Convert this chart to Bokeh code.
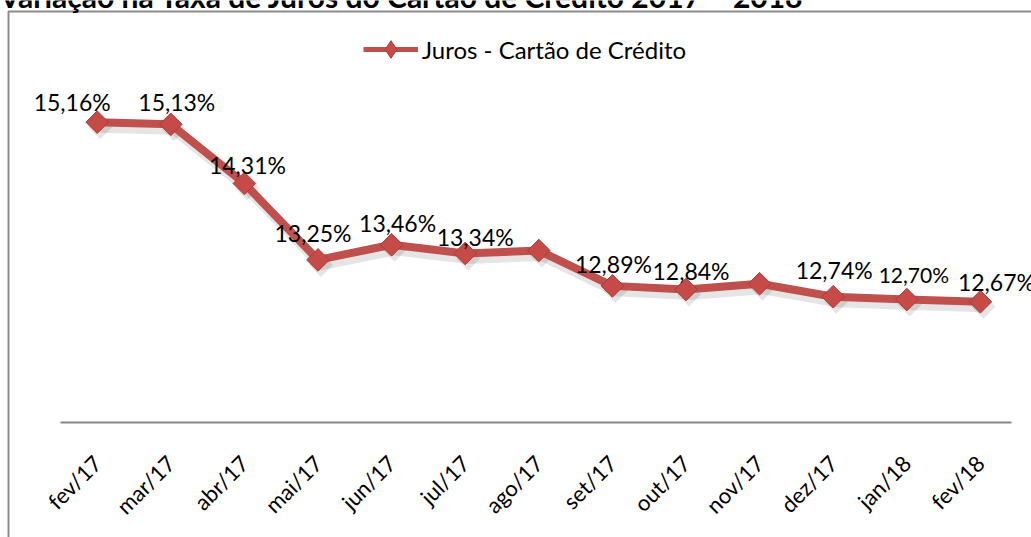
import numpy as np
from bokeh.plotting import figure
from bokeh.models import Range1d, FixedTicker, Legend, LegendItem, Label, ColumnDataSource
from bokeh.core.properties import value
from bokeh.embed import file_html
from bokeh.resources import INLINE

# ---- data ----
categories = ["fev/17", "mar/17", "abr/17", "mai/17", "jun/17", "jul/17", "ago/17",
              "set/17", "out/17", "nov/17", "dez/17", "jan/18", "fev/18"]
juros = [15.16, 15.13, 14.31, 13.25, 13.46, 13.34, 13.38, 12.89, 12.84, 12.92, 12.74, 12.70, 12.67]
label_shown = [True, True, True, True, True, True, False, True, True, False, True, True, True]
series_name = "Juros - Cartão de Crédito"
title_text = "Variação na Taxa de Juros do Cartão de Crédito 2017 – 2018"
axis_min = 11

# ---- label placement (style, pixels) ----
label_dx = [-25, 6, 3, -5, 6, 10, 0, 1, 5, 0, 1, 7, 16]
label_dy = [-20, -22, -18, -27, -22, -16, 0, -22, -18, 0, -27, -25, -20]
label_fs = ["23px"] * 11 + ["21px", "23px"]

# ---- geometry ----
W, H = 1031, 537
X0, DX = 96.7, 73.6          # pixel of first category centre, px per category
Y_END, PY = 16.847, 72.12    # value at top of canvas, px per unit
x_start, x_end = -X0 / DX, (W - X0) / DX
y_end = Y_END
y_start = Y_END - H / PY


def px2x(px):
    return x_start + px / DX


def px2y(py):
    return y_end - py / PY


FONT = "Lato"
RED = "#C0504D"

p = figure(width=W, height=H, x_range=Range1d(x_start, x_end), y_range=Range1d(y_start, y_end),
           min_border=0, output_backend="svg", toolbar_location=None,
           y_axis_location=None, x_axis_location="below")
p.outline_line_color = None
p.xgrid.visible = False
p.ygrid.visible = False
p.background_fill_color = "white"
p.border_fill_color = "white"

xs = list(range(len(categories)))
lbls = [(f"{v:.2f}".replace(".", ",") + "%") if s else "" for v, s in zip(juros, label_shown)]
src = ColumnDataSource(dict(x=xs, y=juros, lbl=lbls, dx=label_dx, dy=label_dy, fs=label_fs))

# shadow
shadow = ColumnDataSource(dict(x=[x + 3 / DX for x in xs], y=[v - 5 / PY for v in juros]))
p.line("x", "y", source=shadow, line_color="black", line_alpha=0.10, line_width=11)
p.scatter("x", "y", source=shadow, marker="square", angle=np.pi / 4, size=17,
          fill_color="black", fill_alpha=0.10, line_color=None)

p.line("x", "y", source=src, line_color=RED, line_width=8, line_join="round")
p.scatter("x", "y", source=src, marker="square", angle=np.pi / 4, size=16,
          fill_color="#C64B48", line_color="#A93C39", line_width=1)

p.text("x", "y", text="lbl", x_offset="dx", y_offset="dy", text_font=value(FONT),
       text_font_size="fs", text_align="center", text_baseline="alphabetic",
       text_color="black", source=src)

# frame border (chart area border)
p.line(x=[px2x(8), px2x(8), px2x(W + 10)], y=[px2y(H + 10), px2y(11), px2y(11)],
       line_color="#8c8c8c", line_width=2)

# x axis
ax = p.xaxis[0]
ax.fixed_location = axis_min
ax.bounds = (px2x(60), px2x(1011))
ax.ticker = FixedTicker(ticks=xs)
ax.major_label_overrides = {i: c for i, c in enumerate(categories)}
ax.major_label_orientation = np.pi / 4
ax.major_tick_line_color = None
ax.minor_tick_line_color = None
ax.axis_line_color = "#868686"
ax.axis_line_width = 2
ax.major_label_text_font = FONT
ax.major_label_text_font_size = "22px"
ax.major_label_text_color = "black"
ax.major_label_standoff = 31

# title (clipped at top as in the reference)
p.add_layout(Label(x=px2x(-1), y=px2y(-5), text=title_text, text_font=FONT,
                   text_font_style="bold", text_font_size="30px",
                   text_baseline="alphabetic", text_color="black"))

# legend swatch renderers (a point far off-canvas, only their look is used by the legend)
off = ColumnDataSource(dict(x=[px2x(-500)], y=[px2y(-500)]))
leg_line = p.line("x", "y", source=off, line_color=RED, line_width=5)
leg_mark = p.scatter("x", "y", source=off, marker="diamond", size=19,
                     fill_color="#C64B48", line_color="#A93C39", line_width=1)

legend = Legend(items=[LegendItem(label=series_name, renderers=[leg_line, leg_mark])],
                location=(363, 466), orientation="horizontal",
                glyph_width=55, glyph_height=44, label_standoff=4, padding=0, margin=0,
                label_text_font=FONT, label_text_font_size="24px", label_text_color="black",
                border_line_color=None, background_fill_alpha=0)
p.add_layout(legend, "center")

open("out.html", "w").write(file_html(p, INLINE))
